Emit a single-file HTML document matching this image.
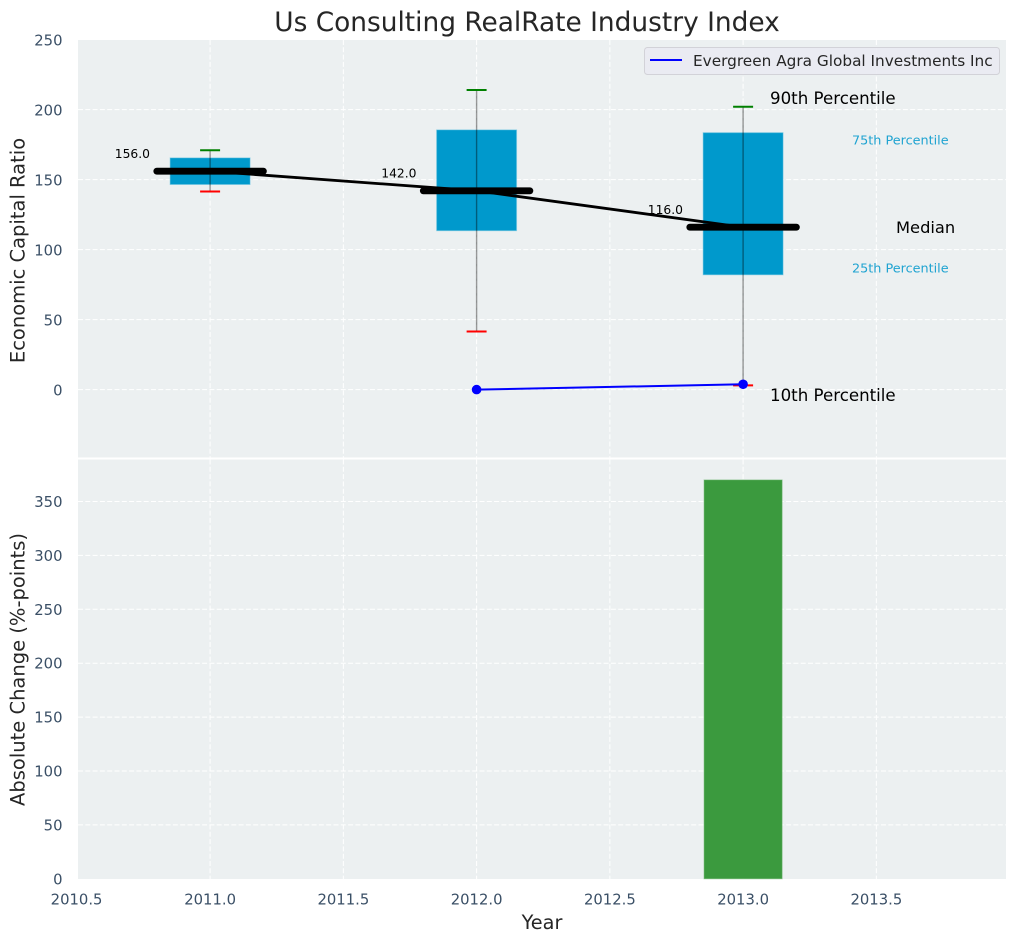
<!DOCTYPE html>
<html lang="en">
<head>
<meta charset="utf-8">
<title>Us Consulting RealRate Industry Index</title>
<style>
html,body{margin:0;padding:0;background:#fff;}
svg{display:block;font-family:"DejaVu Sans","Liberation Sans",sans-serif;}
</style>
</head>
<body>
<svg id="chart" xmlns="http://www.w3.org/2000/svg" width="1016" height="942" viewBox="0 0 1016 942">
  <rect x="0" y="0" width="1016" height="942" fill="#ffffff"/>
  <rect x="78" y="40" width="928" height="418" fill="#ecf0f1"/>
  <rect x="78" y="459.5" width="928" height="419.5" fill="#ecf0f1"/>
  <g id="grid"></g>
  <g id="ticks"></g>
  <g id="bars"></g>
  <g id="boxes"></g>
  <g id="company"></g>
  <text x="527" y="31" font-size="26.4" text-anchor="middle" fill="#262626">Us Consulting RealRate Industry Index</text>
  <text transform="translate(24.5,250.5) rotate(-90)" font-size="19.5" text-anchor="middle" fill="#262626">Economic Capital Ratio</text>
  <text transform="translate(24.5,669.5) rotate(-90)" font-size="19.5" text-anchor="middle" fill="#262626">Absolute Change (%-points)</text>
  <text x="542" y="929" font-size="19.3" text-anchor="middle" fill="#262626">Year</text>
  <text x="770" y="104" font-size="16.65" fill="#000000">90th Percentile</text>
  <text x="852" y="144.5" font-size="12.8" fill="#1fa3d1">75th Percentile</text>
  <text x="896" y="233" font-size="16.3" fill="#000000">Median</text>
  <text x="852" y="272.5" font-size="12.8" fill="#1fa3d1">25th Percentile</text>
  <text x="770" y="401" font-size="16.65" fill="#000000">10th Percentile</text>
  <g>
    <rect x="644.5" y="47.5" width="355" height="27" rx="3" ry="3" fill="#eaeaf2" fill-opacity="0.9" stroke="#d2d2d8" stroke-width="1"/>
    <line x1="650" y1="60" x2="682" y2="60" stroke="#0000ff" stroke-width="2"/>
    <text x="693" y="66" font-size="15.3" fill="#262626">Evergreen Agra Global Investments Inc</text>
  </g>
  <line x1="78" y1="458.5" x2="1006" y2="458.5" stroke="#ffffff" stroke-width="2"/>
</svg>
<script>
var years = [2011, 2012, 2013];
var p10 = [141.5, 41.5, 3];
var p25 = [146.5, 113.5, 82];
var medians = [156, 142, 116];
var p75 = [165.5, 185.5, 183.5];
var p90 = [171, 214, 202];
var companyYears = [2012, 2013];
var companyValues = [0, 3.8];
var changeYears = [2013];
var changeValues = [370];
var xTickValues = [2010.5, 2011, 2011.5, 2012, 2012.5, 2013, 2013.5];
var xTickLabels = ['2010.5', '2011.0', '2011.5', '2012.0', '2012.5', '2013.0', '2013.5'];
var topTickValues = [0, 50, 100, 150, 200, 250];
var bottomTickValues = [0, 50, 100, 150, 200, 250, 300, 350];

var NS = 'http://www.w3.org/2000/svg';
var X_LEFT = 78, X_RIGHT = 1006;
var TOP_START = 40, TOP_END = 458, BOT_START = 459.5, BOT_END = 879;
var BOX_WIDTH = 0.3, MEDIAN_WIDTH = 0.4, CAP_WIDTH = 0.075, BAR_WIDTH = 0.293;
var GRID_DASH = '5 2.3';

function xScale(v) { return 210.1 + (v - 2011) * 266.5; }
function yTop(v) { return 389.6 - v * 1.4; }
function yBottom(v) { return 878.8 - v * 1.078; }

function add(parentId, tag) {
  var el = document.createElementNS(NS, tag);
  document.getElementById(parentId).appendChild(el);
  return el;
}
function setLine(el, x1, y1, x2, y2, stroke, width) {
  el.setAttribute('x1', x1);
  el.setAttribute('y1', y1);
  el.setAttribute('x2', x2);
  el.setAttribute('y2', y2);
  el.setAttribute('stroke', stroke);
  el.setAttribute('stroke-width', width);
  return el;
}
function setText(el, x, y, size, anchor, fill, str) {
  el.setAttribute('x', x);
  el.setAttribute('y', y);
  el.setAttribute('font-size', size);
  el.setAttribute('text-anchor', anchor);
  el.setAttribute('fill', fill);
  el.textContent = str;
  return el;
}

var TICK_COLOR = '#3a4f66';

xTickValues.forEach(function (v, i) {
  var px = xScale(v);
  if (px >= X_LEFT) {
    var a = setLine(add('grid', 'line'), px, TOP_START, px, TOP_END, '#ffffff', 1);
    a.setAttribute('stroke-dasharray', GRID_DASH);
    
    
    var b = setLine(add('grid', 'line'), px, BOT_START, px, BOT_END, '#ffffff', 1);
    b.setAttribute('stroke-dasharray', GRID_DASH);
    
    
  }
  var t = setText(add('ticks', 'text'), xScale(v) - (i === 0 ? 0.3 : 0), 904.5, 14.8, 'middle', TICK_COLOR, xTickLabels[i]);
  
  
});

topTickValues.forEach(function (v) {
  var py = yTop(v);
  if (py > TOP_START) {
    var g = setLine(add('grid', 'line'), X_LEFT, py, X_RIGHT, py, '#ffffff', 1);
    g.setAttribute('stroke-dasharray', GRID_DASH);
    
    
  }
  var t = setText(add('ticks', 'text'), 62.5, py + 5.9, 14.8, 'end', TICK_COLOR, String(v));
  
  
});

bottomTickValues.forEach(function (v) {
  var py = yBottom(v);
  if (v > 0) {
    var g = setLine(add('grid', 'line'), X_LEFT, py, X_RIGHT, py, '#ffffff', 1);
    g.setAttribute('stroke-dasharray', GRID_DASH);
    
    
  }
  var t = setText(add('ticks', 'text'), 62.5, py + 5.5, 14.8, 'end', TICK_COLOR, String(v));
  
  
});

changeYears.forEach(function (yr, i) {
  var bar = add('bars', 'rect');
  bar.setAttribute('x', xScale(yr - BAR_WIDTH / 2));
  bar.setAttribute('y', yBottom(changeValues[i]));
  bar.setAttribute('width', xScale(yr + BAR_WIDTH / 2) - xScale(yr - BAR_WIDTH / 2));
  bar.setAttribute('height', yBottom(0) - yBottom(changeValues[i]));
  bar.setAttribute('fill', '#3b9a3e');
  bar.setAttribute('stroke', '#6db56f');
  bar.setAttribute('stroke-opacity', '0.5');
  bar.setAttribute('stroke-width', '1');
  
  
});

years.forEach(function (yr, i) {
  var cx = xScale(yr);
  var box = add('boxes', 'rect');
  box.setAttribute('x', xScale(yr - BOX_WIDTH / 2));
  box.setAttribute('y', yTop(p75[i]));
  box.setAttribute('width', xScale(yr + BOX_WIDTH / 2) - xScale(yr - BOX_WIDTH / 2));
  box.setAttribute('height', yTop(p25[i]) - yTop(p75[i]));
  box.setAttribute('fill', '#0099cc');
  box.setAttribute('stroke', '#66c2e0');
  box.setAttribute('stroke-opacity', '0.5');
  box.setAttribute('stroke-width', '1');
  
  

  var whisker = setLine(add('boxes', 'line'), cx, yTop(p90[i]), cx, yTop(p10[i]), '#000000', 1.4);
  whisker.setAttribute('stroke-opacity', '0.4');
  
  

  var capHigh = setLine(add('boxes', 'line'), xScale(yr - CAP_WIDTH / 2), yTop(p90[i]), xScale(yr + CAP_WIDTH / 2), yTop(p90[i]), '#008000', 2);
  
  

  var capLow = setLine(add('boxes', 'line'), xScale(yr - CAP_WIDTH / 2), yTop(p10[i]), xScale(yr + CAP_WIDTH / 2), yTop(p10[i]), '#ff0000', 2);
  
  
});

var trend = add('boxes', 'polyline');
trend.setAttribute('points', years.map(function (yr, i) { return xScale(yr) + ',' + yTop(medians[i]); }).join(' '));
trend.setAttribute('fill', 'none');
trend.setAttribute('stroke', '#000000');
trend.setAttribute('stroke-width', '2.8');



years.forEach(function (yr, i) {
  var med = setLine(add('boxes', 'line'), xScale(yr - MEDIAN_WIDTH / 2), yTop(medians[i]), xScale(yr + MEDIAN_WIDTH / 2), yTop(medians[i]), '#000000', 6.8);
  med.setAttribute('stroke-linecap', 'round');
  
  

  var label = setText(add('boxes', 'text'), xScale(yr) - 60.1, yTop(medians[i] + 12) + 3.4, 12.3, 'end', '#000000', medians[i].toFixed(1));
  
  
});

var companyLine = add('company', 'polyline');
companyLine.setAttribute('points', companyYears.map(function (yr, i) { return xScale(yr) + ',' + yTop(companyValues[i]); }).join(' '));
companyLine.setAttribute('fill', 'none');
companyLine.setAttribute('stroke', '#0000ff');
companyLine.setAttribute('stroke-width', '2');



companyYears.forEach(function (yr, i) {
  var dot = add('company', 'circle');
  dot.setAttribute('cx', xScale(yr));
  dot.setAttribute('cy', yTop(companyValues[i]));
  dot.setAttribute('r', 4.8);
  dot.setAttribute('fill', '#0000ff');
  
  
});
</script>
</body>
</html>
